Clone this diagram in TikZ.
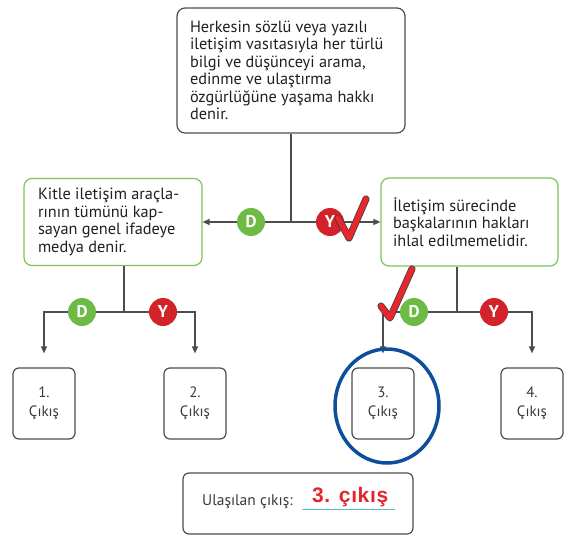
\documentclass[tikz,border=0pt]{standalone}
\usepackage{fontspec}
\setmainfont{PT Sans}
\newfontfamily\answerfont[LetterSpace=3]{Liberation Sans}
\usetikzlibrary{arrows.meta,positioning}

\definecolor{linegray}{HTML}{4D4D4D}
\definecolor{textdark}{HTML}{231F20}
\definecolor{textgray}{HTML}{3A3A3A}
\definecolor{boxgreen}{HTML}{7CC35B}
\definecolor{dotgreen}{HTML}{6DBB45}
\definecolor{dotred}{HTML}{D2232A}
\definecolor{tickred}{HTML}{E8262C}
\definecolor{circleblue}{HTML}{0D4F9C}
\definecolor{answerred}{HTML}{E3262B}
\definecolor{lineteal}{HTML}{5BC0C0}

\tikzset{
  infobox/.style={draw=linegray, rounded corners=8pt, line width=1.2pt,
    align=flush left, inner ysep=0pt, text=textdark,
    font=\fontsize{16.3}{17.5}\selectfont},
  greenbox/.style={infobox, draw=boxgreen},
  exitbox/.style={draw=linegray, rounded corners=6pt, line width=1.2pt,
    minimum width=62pt, minimum height=71pt, align=center, text=textgray,
    font=\fontsize{15}{19}\selectfont},
  conn/.style={draw=linegray, line width=1.2pt},
  arr/.style={conn, -{Triangle[length=7pt,width=6pt]}},
  yesdot/.style={circle, fill=dotgreen, minimum size=28pt, inner sep=0pt,
    text=white, font=\fontsize{17}{17}\selectfont\bfseries},
  nodot/.style={yesdot, fill=dotred},
  tickmark/.style={draw=black!75, double=tickred, double distance=5.5pt,
    line width=0.8pt, line cap=round, line join=round}
}

\begin{document}
\begin{tikzpicture}[x=1pt,y=-1pt]
  \useasboundingbox (0,0) rectangle (576,544);

  % question boxes
  \node[infobox, text width=202pt, inner xsep=13pt, minimum height=125pt] (top) at (291,70.5)
    {Herkesin sözlü veya yazılı\\ iletişim vasıtasıyla her türlü\\ bilgi ve düşünceyi arama,\\
     edinme ve ulaştırma\\ özgürlüğüne yaşama hakkı\\ denir.};
  \node[greenbox, text width=150pt, inner xsep=14pt, minimum height=87pt] (left) at (113,222)
    {Kitle iletişim araçla-\\ rının tümünü kap-\\ sayan genel ifadeye\\ medya denir.};
  \node[greenbox, text width=153pt, inner xsep=12pt, minimum height=88pt] (right) at (469.5,222)
    {İletişim sürecinde\\ başkalarının hakları\\ ihlal edilmemelidir.};

  % exits
  \node[exitbox] (exit1) at (44,403.5) {1.\\ Çıkış};
  \node[exitbox] (exit2) at (195,403.5) {2.\\ Çıkış};
  \node[exitbox] (exit3) at (383,403.5) {3.\\ Çıkış};
  \node[exitbox] (exit4) at (532,403.5) {4.\\ Çıkış};

  \coordinate (j1) at (291,222);
  \coordinate (j2) at (124,312);
  \coordinate (j3) at (457,312);

  % first branch
  \draw[conn] (top.south) -- (j1);
  \draw[arr] (j1) -- (j1 -| left.east);
  \draw[arr] (j1) -- (j1 -| right.west);
  \node[yesdot] (d1) at (251,222) {D};
  \node[nodot] (y1) at (330,222) {Y};

  % second branch, left
  \draw[conn] (left.south -| j2) -- (j2);
  \draw[arr, shorten >=14pt] (j2) -| (exit1.north);
  \draw[arr, shorten >=14pt] (j2) -| (exit2.north);
  \node[yesdot] (d2) at (82,312) {D};
  \node[nodot] (y2) at (163,312) {Y};

  % second branch, right
  \draw[conn] (right.south -| j3) -- (j3);
  \draw[arr, shorten >=14pt] (j3) -| (exit3.north);
  \draw[arr, shorten >=14pt] (j3) -| (exit4.north);
  \node[yesdot] (d3) at (414,312) {D};
  \node[nodot] (y3) at (494,312) {Y};

  % marks of the solution
  \draw[tickmark] (338,218) -- (349,238) -- (366,199);
  \draw[tickmark] (381,306) -- (390,318) -- (412,269);
  \draw[circleblue, line width=3.5pt] (exit3.center) ++(4,2.5) ellipse (52 and 57);

  % result
  \node[exitbox, minimum width=230pt, minimum height=61pt] (result) at (298,503.5) {};
  \node[anchor=west, inner sep=0pt, text=textgray, font=\fontsize{15.5}{15.5}\selectfont]
    (reslabel) at (202,502) {Ulaşılan çıkış:};
  \node[anchor=west, inner sep=0pt, text=answerred, font=\answerfont\bfseries\fontsize{21}{21}\selectfont]
    (answer) at (312,497) {3. çıkış};
  \draw[lineteal, line width=1pt] (302,509.5) -- (395,509.5);
\end{tikzpicture}
\end{document}
